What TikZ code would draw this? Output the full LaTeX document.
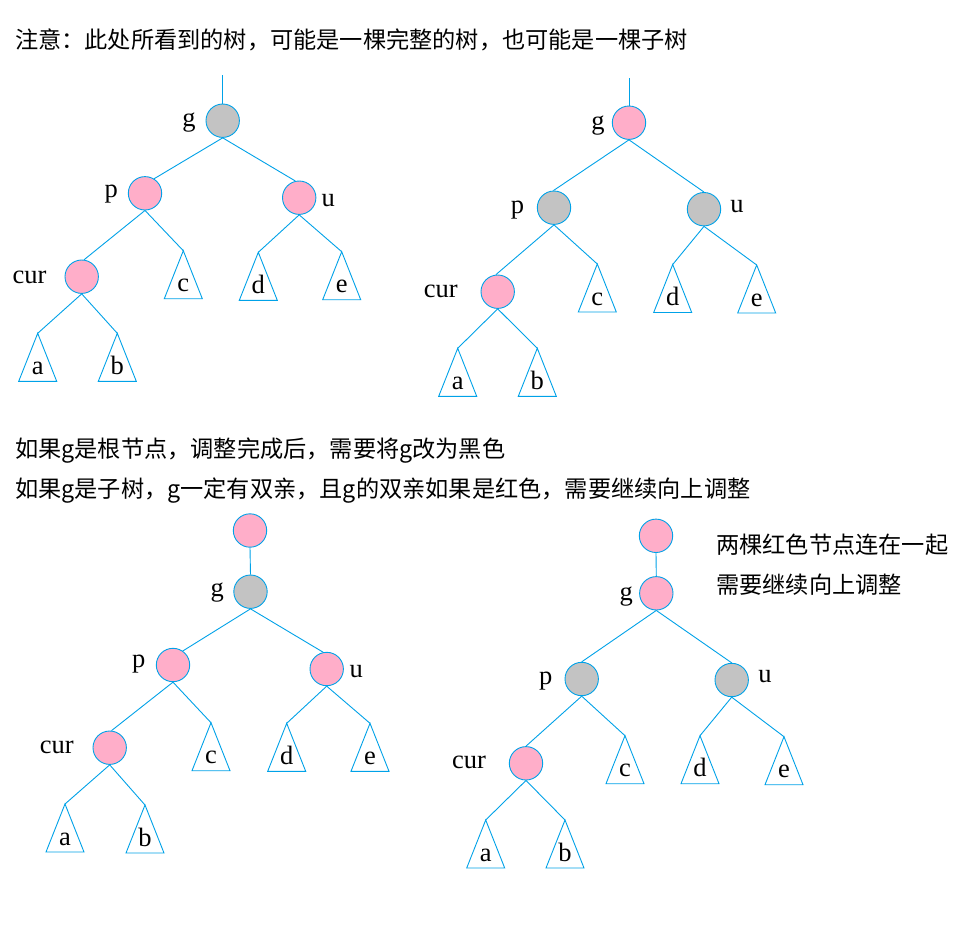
\documentclass[tikz,border=0pt]{standalone}
\usepackage{fontspec}
\newfontfamily\cjk{Noto Sans CJK SC}
\newfontfamily\lblserif{Liberation Serif}
\definecolor{lineblue}{RGB}{0,162,232}
\definecolor{pinkc}{RGB}{255,174,201}
\definecolor{grayc}{RGB}{195,195,195}
\newcommand{\subtri}[4]{%
  \coordinate (#1) at (#2,#3);
  \draw[edge] (#1) -- ++(-19,48) -- ++(38,0) -- cycle;
  \node[lbl,anchor=base] (#1l) at ([yshift=-41pt]#1) {#4};
}
\begin{document}
\begin{tikzpicture}[x=1pt,y=-1pt,
  rb/.style={circle,draw=lineblue,line width=0.9pt,minimum size=33.4pt,inner sep=0pt},
  rednode/.style={rb,fill=pinkc},
  blacknode/.style={rb,fill=grayc},
  edge/.style={draw=lineblue,line width=0.9pt},
  lbl/.style={font=\lblserif\fontsize{26.5}{30}\selectfont,inner sep=0pt},
  dlbl/.style={lbl,yshift=-3.5pt},
  xlbl/.style={lbl,yshift=-2pt},
  txt/.style={font=\cjk\fontsize{23.2}{28}\selectfont,anchor=west,inner sep=0pt}]
\useasboundingbox (0,0) rectangle (978,932);
\fill[white] (0,0) rectangle (978,932);

% texts
\node[txt] (t0) at (15,40) {注意：此处所看到的树，可能是一棵完整的树，也可能是一棵子树};
\node[txt] (t1) at (15,451) {如果g是根节点，调整完成后，需要将g改为黑色};
\node[txt] (t2) at (15,491) {如果g是子树，g一定有双亲，且g的双亲如果是红色，需要继续向上调整};
\node[txt] (t3) at (716,545) {两棵红色节点连在一起};
\node[txt] (t4) at (716,585) {需要继续向上调整};

% ---------- tree 1 ----------
\coordinate (top1) at (222.7,75);
\node[blacknode] (g1) at (222.7,120.7) {};
\node[rednode] (p1) at (145,193.3) {};
\node[rednode] (u1) at (299.2,197.7) {};
\node[rednode] (cur1) at (81.7,276.7) {};
\node[dlbl] (g1l) at (189,118.8) {g};
\node[dlbl] (p1l) at (111.3,190.3) {p};
\node[xlbl] (u1l) at (328.3,198.8) {u};
\node[xlbl] (cur1l) at (29.5,275.8) {cur};
\subtri{a1}{37.7}{333.3}{a}
\subtri{b1}{117.3}{333.3}{b}
\subtri{c1}{183.3}{250.7}{c}
\subtri{d1}{258.3}{252.3}{d}
\subtri{e1}{341.7}{251.7}{e}
\draw[edge] (top1) -- (g1.north);
\draw[edge] (g1.south) -- (p1.58);
\draw[edge] (g1.south) -- (u1.103);
\draw[edge] (p1.south) -- (cur1.82);
\draw[edge] (p1.south) -- (c1);
\draw[edge] (u1.south) -- (d1);
\draw[edge] (u1.south) -- (e1);
\draw[edge] (cur1.south) -- (a1);
\draw[edge] (cur1.south) -- (b1);

% ---------- tree 2 ----------
\coordinate (top2) at (629,78);
\node[rednode] (g2) at (629,122.7) {};
\node[blacknode] (p2) at (554,207.7) {};
\node[blacknode] (u2) at (704,209.2) {};
\node[rednode] (cur2) at (497.7,291.7) {};
\node[dlbl] (g2l) at (598,122.5) {g};
\node[dlbl] (p2l) at (517.5,206.7) {p};
\node[xlbl] (u2l) at (737,204.2) {u};
\node[xlbl] (cur2l) at (440.8,289.5) {cur};
\subtri{a2}{457.7}{348.3}{a}
\subtri{b2}{537.3}{348.3}{b}
\subtri{c2}{597.3}{264}{c}
\subtri{d2}{672.7}{264.5}{d}
\subtri{e2}{756.7}{265}{e}
\draw[edge] (top2) -- (g2.north);
\draw[edge] (g2.south) -- (p2.92);
\draw[edge] (g2.south) -- (u2.north);
\draw[edge] (p2.south) -- (cur2.96);
\draw[edge] (p2.south) -- (c2);
\draw[edge] (u2.south) -- (d2);
\draw[edge] (u2.south) -- (e2);
\draw[edge] (cur2.south) -- (a2);
\draw[edge] (cur2.south) -- (b2);

% ---------- tree 3 ----------
\node[rednode] (top3) at (250,530.5) {};
\node[blacknode] (g3) at (250.5,591.7) {};
\node[rednode] (p3) at (173,665) {};
\node[rednode] (u3) at (326.7,669) {};
\node[rednode] (cur3) at (109.7,747.7) {};
\node[dlbl] (g3l) at (217.2,589.2) {g};
\node[dlbl] (p3l) at (138.7,660.8) {p};
\node[xlbl] (u3l) at (356.2,669.5) {u};
\node[xlbl] (cur3l) at (56.7,745.8) {cur};
\subtri{a3}{65}{804}{a}
\subtri{b3}{145}{805}{b}
\subtri{c3}{211}{722.7}{c}
\subtri{d3}{286.7}{723.3}{d}
\subtri{e3}{370}{723.3}{e}
\draw[edge] (top3.south) -- (g3.north);
\draw[edge] (g3.south) -- (p3.55);
\draw[edge] (g3.south) -- (u3.102);
\draw[edge] (p3.south) -- (cur3.84);
\draw[edge] (p3.south) -- (c3);
\draw[edge] (u3.south) -- (d3);
\draw[edge] (u3.south) -- (e3);
\draw[edge] (cur3.south) -- (a3);
\draw[edge] (cur3.south) -- (b3);

% ---------- tree 4 ----------
\node[rednode] (top4) at (656,535.8) {};
\node[rednode] (g4) at (656.3,593.3) {};
\node[blacknode] (p4) at (581.7,679) {};
\node[blacknode] (u4) at (731.7,680) {};
\node[rednode] (cur4) at (526,763.3) {};
\node[dlbl] (g4l) at (626.2,593.3) {g};
\node[dlbl] (p4l) at (545.8,677.2) {p};
\node[xlbl] (u4l) at (765,674.8) {u};
\node[xlbl] (cur4l) at (469,760.8) {cur};
\subtri{a4}{485.7}{820}{a}
\subtri{b4}{565}{820}{b}
\subtri{c4}{625}{735.7}{c}
\subtri{d4}{700}{735.7}{d}
\subtri{e4}{784}{736.7}{e}
\draw[edge] (top4.south) -- (g4.north);
\draw[edge] (g4.south) -- (p4.north);
\draw[edge] (g4.south) -- (u4.north);
\draw[edge] (p4.south) -- (cur4.north);
\draw[edge] (p4.south) -- (c4);
\draw[edge] (u4.south) -- (d4);
\draw[edge] (u4.south) -- (e4);
\draw[edge] (cur4.south) -- (a4);
\draw[edge] (cur4.south) -- (b4);
\end{tikzpicture}
\end{document}
